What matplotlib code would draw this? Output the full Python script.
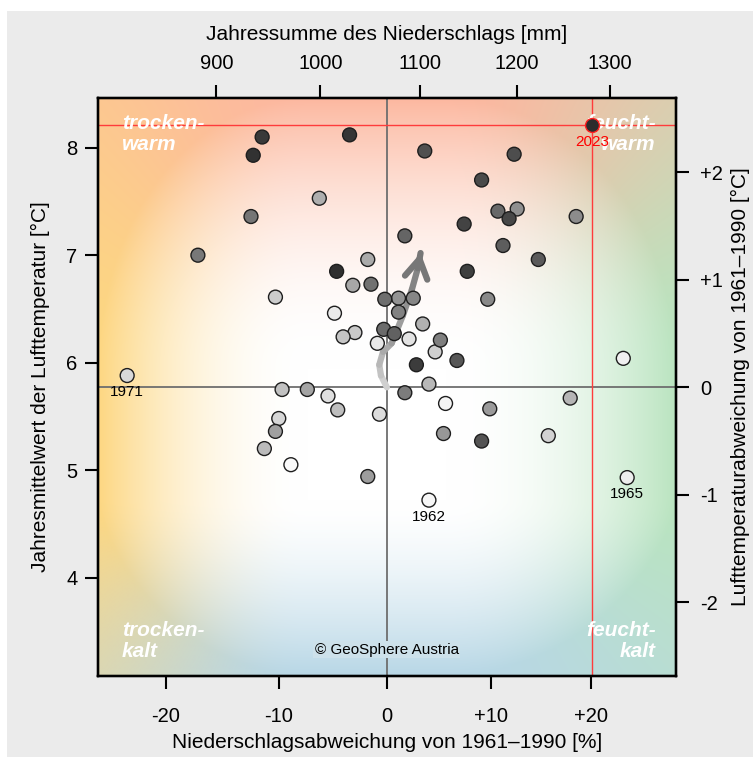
import numpy as np
import matplotlib
matplotlib.use('Agg')
import matplotlib.pyplot as plt
from matplotlib.collections import LineCollection
from matplotlib.patches import Rectangle
from matplotlib.colors import LinearSegmentedColormap

plt.rcParams['font.family'] = ['Liberation Sans', 'DejaVu Sans']

# ---------------- data ----------------
years = np.arange(1961, 2024)
precip_dev = [-8.9, 4.0, 5.6, 23.3, 23.7, -4.9, -0.9, 2.1, -5.5, -0.7,
              -23.3, -10.0, 15.7, 4.6, -10.3, -3.0, -4.1, -9.7, -4.6, -11.3,
              4.0, 17.9, 3.4, -6.3, -1.8, -3.2, -7.4, -10.3, -1.8, 9.9,
              5.4, 1.1, 12.6, 18.5, 9.7, 2.5, 1.1, 5.1, 1.7, -17.2,
              -12.5, -1.5, -0.2, -0.3, 10.7, 1.7, 0.7, 11.2, 14.7, 6.7,
              9.1, 3.6, 12.3, 9.1, 11.8, 7.4, 7.7, 2.8, -11.5, -3.5,
              -12.3, -4.7, 20.1]
temp_mean = [5.05, 4.72, 5.62, 6.04, 4.93, 6.46, 6.18, 6.22, 5.69, 5.52,
             5.88, 5.48, 5.32, 6.10, 6.61, 6.28, 6.24, 5.75, 5.56, 5.20,
             5.80, 5.67, 6.36, 7.53, 6.96, 6.72, 5.75, 5.36, 4.94, 5.57,
             5.34, 6.60, 7.43, 7.36, 6.59, 6.60, 6.47, 6.21, 5.72, 7.00,
             7.36, 6.73, 6.59, 6.31, 7.41, 7.18, 6.27, 7.09, 6.96, 6.02,
             5.27, 7.97, 7.94, 7.70, 7.34, 7.29, 6.85, 5.98, 8.10, 8.12,
             7.93, 6.85, 8.21]
label_years = [1962, 1965, 1971]
highlight_year = 2023

trend_dev = [0.0, -0.56, -0.72, -0.37, 0.45, 1.52, 2.37, 2.94, 3.2]
trend_temp = [5.77, 5.88, 5.98, 6.10, 6.18, 6.44, 6.68, 6.88, 7.02]

ref_temp = 5.77      # 1961-1990 mean temperature [°C]
ref_precip = 1066.0  # 1961-1990 mean precipitation [mm]

xticks_pct = [-20, -10, 0, 10, 20]
xticklabels_pct = ['-20', '-10', '0', '+10', '+20']
xticks_mm = [900, 1000, 1100, 1200, 1300]
yticks_temp = [4, 5, 6, 7, 8]
yticks_anom = [-2, -1, 0, 1, 2]
yticklabels_anom = ['-2', '-1', '0', '+1', '+2']

quadrant_labels = ['trocken-\nwarm', 'feucht-\nwarm', 'trocken-\nkalt', 'feucht-\nkalt']

# ---------------- figure ----------------
W_PX, H_PX = 753, 757
fig = plt.figure(figsize=(W_PX / 100, H_PX / 100), dpi=100)
fig.patch.set_facecolor('white')
fig.patches.append(Rectangle((7 / W_PX, 0), 1, 1 - 11 / H_PX, transform=fig.transFigure,
                             facecolor='#ebebeb', edgecolor='none', zorder=-10))

L, R, T, B = 98, 676, 97.7, 675.7
rect = [L / W_PX, 1 - B / H_PX, (R - L) / W_PX, (B - T) / H_PX]

# background gradient
bg = fig.add_axes(rect, zorder=-1)
n = 400
u = np.linspace(0, 1, n)[None, :]
v = np.linspace(1, 0, n)[:, None]
wpx, hpx = R - L, B - T
dl = u * wpx
dr = (1 - u) * wpx
dt = (1 - v) * hpx
db = v * hpx
wl = np.clip(1 - dl / 210, 0, 1) ** 2 * np.ones_like(v)
wr = np.clip(1 - dr / 230, 0, 1) ** 2 * np.ones_like(v)
wt = np.clip(1 - dt / 270, 0, 1) ** 2 * np.ones_like(u)
wb = np.clip(1 - db / 175, 0, 1) ** 1.5 * np.ones_like(u)
Yc = np.array([253, 215, 130]) / 255
Sc = np.array([252, 184, 160]) / 255
Gc = np.array([186, 228, 192]) / 255
Bc = np.array([184, 215, 230]) / 255
Wsum = wl + wr + wt + wb
img = (wl[..., None] * Yc + wr[..., None] * Gc + wt[..., None] * Sc + wb[..., None] * Bc
       + np.clip(1 - Wsum, 0, 1)[..., None] * np.ones(3)) / np.maximum(Wsum, 1)[..., None]
bg.imshow(img, aspect='auto', extent=[0, 1, 0, 1], interpolation='bilinear')
bg.axis('off')

ax = fig.add_axes(rect)
ax.set_facecolor('none')

EXP = 0.6


def fwd(p):
    return np.power(np.clip(1 + np.asarray(p, dtype=float) / 100, 1e-9, None), EXP)


def inv(g):
    return (np.power(np.clip(np.asarray(g, dtype=float), 1e-9, None), 1 / EXP) - 1) * 100


ax.set_xscale('function', functions=(fwd, inv))
xlim = (-25.76, 28.76)
ylim = (3.086, 8.466)

# reference lines
ax.axvline(0, color='#6e6e6e', lw=1.3, zorder=2)
ax.axhline(ref_temp, color='#6e6e6e', lw=1.3, zorder=2)

yrs = np.array(years)
pd_ = np.array(precip_dev)
tm = np.array(temp_mean)
hi = yrs == highlight_year
ax.axvline(pd_[hi][0], color='#ff3b3b', lw=1.0, zorder=2)
ax.axhline(tm[hi][0], color='#ff3b3b', lw=1.0, zorder=2)

# trend arrow
td = np.array(trend_dev)
tt = np.array(trend_temp)
pts = np.column_stack([td, tt])
segs = np.stack([pts[:-1], pts[1:]], axis=1)
tcols = plt.get_cmap(LinearSegmentedColormap.from_list('t', ['#d0d0d0', '#777777']))(
    np.linspace(0, 1, len(segs)))
lc = LineCollection(segs, colors=tcols, linewidths=4.5, capstyle='round', joinstyle='round', zorder=3)
ax.add_collection(lc)
ax.annotate('', xy=(td[-1], tt[-1]), xytext=(td[-2], tt[-2]),
            arrowprops=dict(arrowstyle='->,head_length=0.4,head_width=0.24', color='#777777',
                            lw=4.5, mutation_scale=34, shrinkA=0, shrinkB=0,
                            joinstyle='round', capstyle='round'), zorder=3)

# points
cmap = LinearSegmentedColormap.from_list('g', ['#fafafa', '#2c2c2c'])
ax.scatter(pd_[~hi], tm[~hi], s=100, c=yrs[~hi], cmap=cmap, vmin=1961, vmax=2023,
           edgecolors='#1e1e1e', linewidths=1.0, zorder=5)
ax.scatter(pd_[hi], tm[hi], s=100, c=yrs[hi], cmap=cmap, vmin=1961, vmax=2023,
           edgecolors='#ff2020', linewidths=1.0, zorder=6)

for y in label_years:
    i = int(np.where(yrs == y)[0][0])
    ax.annotate(str(y), (pd_[i], tm[i]), xytext=(0, -12), textcoords='offset points',
                ha='center', va='center', fontsize=11, color='black', zorder=6)
i = int(np.where(hi)[0][0])
ax.annotate(str(highlight_year), (pd_[i], tm[i]), xytext=(0, -12), textcoords='offset points',
            ha='center', va='center', fontsize=11, color='#ff0000', zorder=6)

# quadrant labels
qkw = dict(transform=ax.transAxes, color='white', fontsize=15, fontweight='bold',
           fontstyle='italic', linespacing=1.15, zorder=4)
ax.text(0.041, 0.972, quadrant_labels[0], ha='left', va='top', **qkw)
ax.text(0.965, 0.972, quadrant_labels[1], ha='right', va='top', multialignment='right', **qkw)
ax.text(0.041, 0.025, quadrant_labels[2], ha='left', va='bottom', **qkw)
ax.text(0.965, 0.025, quadrant_labels[3], ha='right', va='bottom', multialignment='right', **qkw)

ax.text(0.0, 0.045, '© GeoSphere Austria', transform=ax.get_xaxis_transform(),
        ha='center', va='center', fontsize=11, zorder=4,
        bbox=dict(boxstyle='square,pad=0.1', facecolor='#cde1ea', edgecolor='none'))

ax.set_xlim(*xlim)
ax.set_ylim(*ylim)
ax.set_xticks(xticks_pct)
ax.set_xticklabels(xticklabels_pct)
ax.set_yticks(yticks_temp)
ax.minorticks_off()

for s in ax.spines.values():
    s.set_linewidth(1.6)
    s.set_color('black')

# top axis (mm)
axt = ax.twiny()
axt.set_xscale('function', functions=(lambda m: np.power(np.clip(np.asarray(m, dtype=float) / ref_precip, 1e-9, None), EXP),
                                      lambda g: ref_precip * np.power(np.clip(np.asarray(g, dtype=float), 1e-9, None), 1 / EXP)))
axt.set_xlim(ref_precip * (1 + xlim[0] / 100), ref_precip * (1 + xlim[1] / 100))
axt.set_xticks(xticks_mm)
axt.set_xticklabels([str(t) for t in xticks_mm])
axt.minorticks_off()

# right axis (anomaly)
axr = ax.twinx()
axr.set_ylim(ylim[0] - ref_temp, ylim[1] - ref_temp)
axr.set_yticks(yticks_anom)
axr.set_yticklabels(yticklabels_anom)
axr.minorticks_off()

tk = dict(direction='out', length=9.2, width=1.5, labelsize=14.5, color='black')
ax.tick_params(axis='x', pad=13.5, **tk)
ax.tick_params(axis='y', pad=5.5, **tk)
axt.tick_params(axis='x', pad=8.5, **tk)
axr.tick_params(axis='y', pad=8, **tk)
for a in (axt, axr):
    for s in a.spines.values():
        s.set_linewidth(1.6)

fig.text((L + R) / 2 / W_PX, 1 - 35 / H_PX, 'Jahressumme des Niederschlags [mm]',
         ha='center', va='center', fontsize=15)
fig.text((L + R) / 2 / W_PX, 1 - 742 / H_PX, 'Niederschlagsabweichung von 1961–1990 [%]',
         ha='center', va='center', fontsize=15)
fig.text(40 / W_PX, 1 - (T + B) / 2 / H_PX, 'Jahresmittelwert der Lufttemperatur [°C]',
         ha='center', va='center', rotation=90, fontsize=15)
fig.text(740 / W_PX, 1 - (T + B) / 2 / H_PX, 'Lufttemperaturabweichung von 1961–1990 [°C]',
         ha='center', va='center', rotation=90, fontsize=15)

fig.savefig('out.png', dpi=100, facecolor=fig.get_facecolor())
